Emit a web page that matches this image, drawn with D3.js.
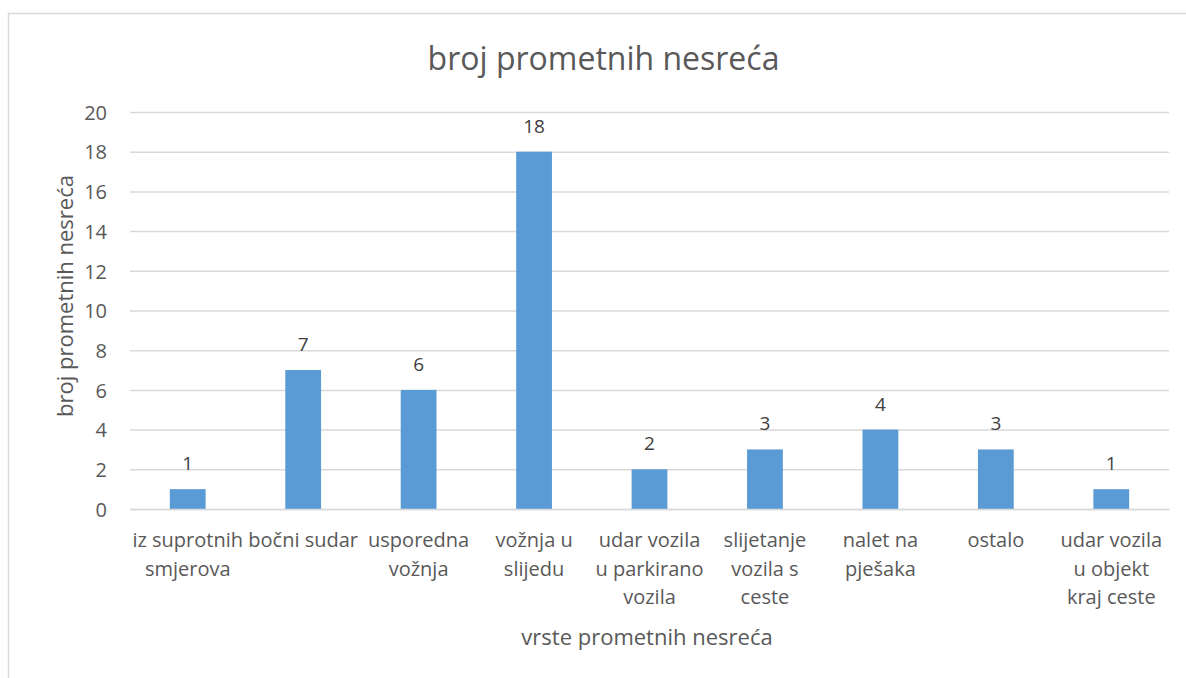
<!DOCTYPE html>
<html>
<head>
<meta charset="utf-8">
<script src="https://cdn.jsdelivr.net/npm/d3@7"></script>
<style>
  html, body { margin: 0; padding: 0; background: #fff; }
  svg { display: block; }
  text { font-family: "Open Sans", Lato, sans-serif; fill: #595959; }
</style>
</head>
<body>
<svg id="chart" width="1186" height="678"></svg>
<script>
// Accident types (line breaks mark how each axis label wraps)
const categories = [
  "iz suprotnih\nsmjerova",
  "bočni sudar",
  "usporedna\nvožnja",
  "vožnja u\nslijedu",
  "udar vozila\nu parkirano\nvozila",
  "slijetanje\nvozila s\nceste",
  "nalet na\npješaka",
  "ostalo",
  "udar vozila\nu objekt\nkraj ceste"
];
// Number of accidents per type
const values = [1, 7, 6, 18, 2, 3, 4, 3, 1];
const yTicks = [0, 2, 4, 6, 8, 10, 12, 14, 16, 18, 20];

const chartTitle = "broj prometnih nesreća";
const yTitle = "broj prometnih nesreća";
const xTitle = "vrste prometnih nesreća";

const svg = d3.select("#chart");
const plot = { left: 130, right: 1169, top: 112, bottom: 509 };

// chart area frame
svg.append("rect")
  .attr("x", 8.5).attr("y", 13.5)
  .attr("width", 1300).attr("height", 800)
  .attr("fill", "none").attr("stroke", "#d9d9d9").attr("stroke-width", 1.5);

const x = d3.scaleBand()
  .domain(categories)
  .range([plot.left, plot.right])
  .paddingInner(0.69).paddingOuter(0.345);

const y = d3.scaleLinear().domain([0, 20]).range([plot.bottom, plot.top]);

// horizontal gridlines + value labels via axis
const yAxis = d3.axisLeft(y)
  .tickValues(yTicks)
  .tickSize(-(plot.right - plot.left))
  .tickPadding(23);

const gy = svg.append("g")
  .attr("transform", `translate(${plot.left},0)`)
  .call(yAxis);
gy.select(".domain").remove();
gy.selectAll(".tick line").attr("stroke", "#d9d9d9").attr("stroke-width", 1.5);
gy.selectAll(".tick text")
  .style("font-size", "20px").attr("fill", "#595959").attr("dy", "0.36em");

// bars
svg.append("g").selectAll("rect")
  .data(values)
  .join("rect")
  .attr("x", (d, i) => x(categories[i]))
  .attr("y", d => y(d))
  .attr("width", x.bandwidth())
  .attr("height", d => y(0) - y(d))
  .attr("fill", "#5b9bd5");

// data labels
svg.append("g").selectAll("text")
  .data(values)
  .join("text")
  .attr("x", (d, i) => x(categories[i]) + x.bandwidth() / 2)
  .attr("y", d => y(d) - 19)
  .attr("text-anchor", "middle")
  .style("font-size", "19px")
  .style("fill", "#404040")
  .text(d => d);

// category labels (bottom axis)
const xAxis = d3.axisBottom(x).tickSize(0).tickFormat("");
const gx = svg.append("g")
  .attr("transform", `translate(0,${plot.bottom})`)
  .call(xAxis);
gx.select(".domain").attr("stroke", "#d9d9d9").attr("stroke-width", 1.5);

gx.selectAll(".tick").each(function(d) {
  const t = d3.select(this).append("text")
    .attr("text-anchor", "middle")
    .attr("y", 38)
    .style("font-size", "20px")
    .attr("fill", "#595959");
  d.split("\n").forEach((line, k) => {
    t.append("tspan").attr("x", 0).attr("dy", k === 0 ? 0 : 28.5).text(line);
  });
});

// titles
svg.append("text")
  .attr("x", 603.5).attr("y", 70)
  .attr("text-anchor", "middle")
  .style("font-size", "32px")
  .text(chartTitle);

svg.append("text")
  .attr("x", 647).attr("y", 645)
  .attr("text-anchor", "middle")
  .style("font-size", "22px")
  .text(xTitle);

svg.append("text")
  .attr("transform", "translate(73,296) rotate(-90)")
  .attr("text-anchor", "middle")
  .style("font-size", "22px")
  .text(yTitle);
</script>
</body>
</html>
